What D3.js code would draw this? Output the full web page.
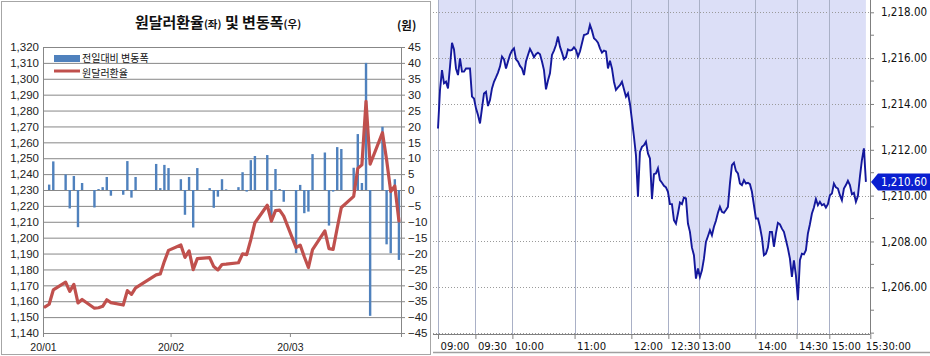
<!DOCTYPE html>
<html><head><meta charset="utf-8">
<script src="https://cdn.jsdelivr.net/npm/d3@7"></script>
<style>
body{margin:0;background:#fff;}
svg{display:block;}
</style>
</head><body>
<svg id="c" width="930" height="356"></svg>
<script>
// ---------- Left chart data ----------
const tradeDates = [
 "2020-01-02","2020-01-03","2020-01-06","2020-01-07","2020-01-08","2020-01-09","2020-01-10","2020-01-13","2020-01-14","2020-01-15",
 "2020-01-16","2020-01-17","2020-01-20","2020-01-21","2020-01-22","2020-01-23","2020-01-28","2020-01-29","2020-01-30","2020-01-31",
 "2020-02-03","2020-02-04","2020-02-05","2020-02-06","2020-02-07","2020-02-10","2020-02-11","2020-02-12","2020-02-13","2020-02-14",
 "2020-02-17","2020-02-18","2020-02-19","2020-02-20","2020-02-21","2020-02-24","2020-02-25","2020-02-26","2020-02-27","2020-02-28",
 "2020-03-02","2020-03-03","2020-03-04","2020-03-05","2020-03-06","2020-03-09","2020-03-10","2020-03-11","2020-03-12","2020-03-13",
 "2020-03-16","2020-03-17","2020-03-18","2020-03-19","2020-03-20","2020-03-23","2020-03-24","2020-03-25","2020-03-26","2020-03-27"];
const dailyChange = [
 1.7, 9.0, 4.9, -5.8, 4.4, -11.7, 2.2, -5.5, 0.3, 0.9,
 4.1, -1.8, -1.5, 9.1, -2.4, 4.1, 8.2, 0.6, 7.9, 6.9,
 3.4, -7.8, 4.1, -11.8, 6.9, 0.6, -5.6, -2.1, 3.4, 0.2,
 0.9, 5.6, -0.5, 9.4, 10.7, 11.0, -10.0, 6.6, 0.3, -3.7,
 -19.9, 1.6, -7.3, -6.8, 11.3, 11.8, -11.2, -0.5, 13.5, 12.9,
 7.0, 17.6, 2.2, 40.0, -39.6, 19.9, -17.1, -19.9, 3.4, -22.0];
const rateDates = ["2020-01-01"].concat(tradeDates);
const closeRate = [1156.4,
 1158.1, 1167.1, 1172.0, 1166.2, 1170.6, 1158.9, 1161.1, 1155.6, 1155.9, 1156.8,
 1160.9, 1159.1, 1157.6, 1166.7, 1164.3, 1168.4, 1176.6, 1177.2, 1185.1, 1192.0,
 1195.4, 1187.6, 1191.7, 1179.9, 1186.8, 1187.4, 1181.8, 1179.7, 1183.1, 1183.3,
 1184.2, 1189.8, 1189.3, 1198.7, 1209.4, 1220.4, 1210.4, 1217.0, 1217.3, 1213.6,
 1193.7, 1195.3, 1188.0, 1181.2, 1192.5, 1204.3, 1193.1, 1192.6, 1206.1, 1219.0,
 1226.0, 1243.6, 1245.8, 1285.8, 1246.2, 1266.1, 1249.0, 1229.1, 1232.5, 1210.5];
const leftTicks = d3.range(1140, 1321, 10);
const rightTicks = d3.range(-45, 46, 5);
const monthTicks = ["2020-01-01","2020-02-01","2020-03-01"];
const monthLabels = ["20/01","20/02","20/03"];
const legendLabels = ["전일대비 변동폭","원달러환율"];

// ---------- Right chart data ----------
const intradayRate = [
 1212.93,1214.61,1215.48,1214.90,1214.97,1214.68,1215.63,1216.67,1216.38,1215.55,
 1215.26,1215.99,1215.41,1215.41,1215.55,1215.55,1215.55,1214.32,1214.24,1213.81,
 1213.52,1213.15,1213.81,1214.46,1214.53,1213.91,1214.17,1214.68,1214.97,1215.16,
 1215.37,1215.63,1216.07,1215.95,1215.55,1215.85,1216.14,1216.33,1216.43,1215.95,
 1215.85,1215.66,1215.55,1215.26,1215.85,1216.14,1216.40,1216.24,1216.04,1216.17,
 1216.24,1216.17,1215.85,1215.48,1214.64,1215.02,1215.34,1216.14,1216.33,1216.57,
 1216.94,1216.50,1216.24,1215.95,1216.04,1216.38,1216.33,1216.36,1216.47,1216.36,
 1216.07,1216.29,1216.65,1217.01,1217.04,1217.08,1217.45,1217.20,1216.87,1216.79,
 1216.67,1216.43,1216.24,1216.33,1216.29,1215.55,1215.89,1215.55,1214.97,1214.61,
 1214.72,1214.82,1214.97,1214.64,1214.32,1214.46,1214.00,1213.30,1212.57,1211.77,
 1209.95,1211.91,1212.13,1212.20,1212.35,1211.84,1211.62,1209.85,1210.94,1210.97,
 1211.19,1210.68,1210.56,1210.43,1210.36,1210.17,1209.63,1209.63,1208.93,1208.78,
 1209.22,1209.70,1209.63,1209.92,1209.88,1208.78,1208.42,1207.73,1207.40,1206.38,
 1206.82,1206.45,1206.74,1207.25,1207.98,1208.23,1208.49,1208.27,1208.64,1208.90,
 1209.25,1209.51,1209.29,1209.25,1209.37,1209.51,1210.53,1211.33,1211.43,1211.08,
 1210.97,1210.53,1210.46,1210.68,1210.53,1210.56,1210.50,1210.17,1209.58,1209.00,
 1209.00,1208.64,1208.17,1207.40,1207.47,1207.73,1208.42,1208.42,1207.77,1208.35,
 1208.81,1208.75,1208.56,1208.42,1208.06,1207.70,1207.25,1206.45,1207.18,1206.52,
 1205.44,1207.18,1207.47,1207.44,1207.62,1208.35,1208.75,1209.22,1209.48,1209.85,
 1209.58,1209.73,1209.58,1209.63,1209.48,1209.63,1210.02,1210.09,1210.53,1210.36,
 1210.31,1210.02,1209.80,1210.31,1210.46,1210.65,1210.46,1210.06,1210.12,1209.73,
 1209.98,1210.82,1211.55,1212.06,1210.60];
const timeTickIndex = [0, 18.7, 37.2, 68.3, 96.7, 115.2, 130.7, 158.7, 179.3, 195.7, 216.2];
const timeTickLabels = ["09:00","09:30","10:00","11:00","12:00","12:30","13:00","14:00","14:30","15:00","15:30:00"];
const priceTicks = [1206, 1208, 1210, 1212, 1214, 1216, 1218];
const priceMinorTicks = [1204, 1205, 1207, 1209, 1211, 1213, 1215, 1217];
const lastPrice = 1210.60;

const svg = d3.select("#c");
const parse = d3.utcParse("%Y-%m-%d");
const NUM = "'Liberation Sans', Arial, sans-serif";
const KR = "'Noto Sans CJK KR', sans-serif";
const COND = "'DejaVu Sans Condensed', 'DejaVu Sans', sans-serif";

// ================= LEFT CHART =================
svg.append("rect").attr("x",1.5).attr("y",1.5).attr("width",429).attr("height",353)
  .attr("fill","#fff").attr("stroke","#a6a6a6");

const L = {x0:43, x1:401, y0:47, y1:333};
const x = d3.scaleUtc().domain([parse("2020-01-01"), parse("2020-03-28")]).range([L.x0, L.x1]);
const yL = d3.scaleLinear().domain([1140,1320]).range([L.y1, L.y0]);
const yR = d3.scaleLinear().domain([-45,45]).range([L.y1, L.y0]);
const mid = d => d3.utcHour.offset(parse(d), 12);

svg.append("g").selectAll("line").data(leftTicks).join("line")
  .attr("x1",L.x0).attr("x2",L.x1)
  .attr("y1",d=>yL(d)+0.5).attr("y2",d=>yL(d)+0.5)
  .attr("stroke","#878787").attr("stroke-width",1);

// left axis
const axL = svg.append("g").attr("transform",`translate(${L.x0},0)`)
  .call(d3.axisLeft(yL).tickValues(leftTicks).tickSize(0).tickPadding(4).tickFormat(d3.format(",")));
axL.select(".domain").attr("stroke","#878787");
axL.selectAll("text").attr("font-family",NUM).attr("font-size",11.5).attr("fill","#222");

// right axis
const axR = svg.append("g").attr("transform",`translate(${L.x1},0)`)
  .call(d3.axisRight(yR).tickValues(rightTicks).tickSize(4).tickPadding(3));
axR.select(".domain").attr("stroke","#878787");
axR.selectAll("line").attr("stroke","#878787");
axR.selectAll("text").attr("font-family",NUM).attr("font-size",11.5).attr("fill","#222");

// bottom axis
const axB = svg.append("g").attr("transform",`translate(0,${L.y1})`)
  .call(d3.axisBottom(x).tickValues(monthTicks.map(parse)).tickSize(4).tickPadding(7)
    .tickFormat((d,i)=>monthLabels[i]));
axB.select(".domain").attr("stroke","#878787");
axB.selectAll("line").attr("stroke","#878787");
axB.selectAll("text").attr("font-family",NUM).attr("font-size",10.5).attr("fill","#222");

// bars
const barW = 2.4;
svg.append("g").selectAll("rect").data(dailyChange).join("rect")
  .attr("x",(d,i)=>x(mid(tradeDates[i]))-barW/2)
  .attr("width",barW)
  .attr("y",d=>Math.min(yR(d),yR(0)))
  .attr("height",d=>Math.abs(yR(d)-yR(0)))
  .attr("fill","#4f81bd");

// line
const lineL = d3.line().x((d,i)=>x(mid(rateDates[i]))).y(d=>yL(d));
svg.append("path").datum(closeRate).attr("d",lineL)
  .attr("fill","none").attr("stroke","#c0504d").attr("stroke-width",3.2)
  .attr("stroke-linejoin","round").attr("stroke-linecap","round");

// title
const title = svg.append("text").attr("x",218).attr("y",28).attr("text-anchor","middle")
  .attr("font-family",KR).attr("font-weight","bold").attr("fill","#111");
title.append("tspan").attr("font-size",15).text("원달러환율");
title.append("tspan").attr("font-size",10.5).text("(좌)");
title.append("tspan").attr("font-size",15).text(" 및 변동폭");
title.append("tspan").attr("font-size",10.5).text("(우)");
svg.append("text").attr("x",397).attr("y",30).attr("font-family",KR).attr("font-weight","bold")
  .attr("font-size",11.5).attr("fill","#111").text("(원)");

// legend
svg.append("rect").attr("x",54).attr("y",55).attr("width",26).attr("height",7).attr("fill","#4f81bd");
svg.append("line").attr("x1",54).attr("x2",80).attr("y1",71).attr("y2",71)
  .attr("stroke","#c0504d").attr("stroke-width",3);
svg.append("g").selectAll("text").data(legendLabels).join("text")
  .attr("x",82).attr("y",(d,i)=>62 + i*14.6)
  .attr("font-family",KR).attr("font-size",10).attr("fill","#111").text(d=>d);

// ================= RIGHT CHART =================
const R = {x0:433, x1:870, y0:0, y1:334};
const xi = d3.scaleLinear().domain([0,216.2]).range([438,870.3]);
const yp = d3.scaleLinear().domain([1206,1218]).range([287.3,12.3]);

// fill above the line
const area = d3.area().x((d,i)=>xi(i)).y0(R.y0).y1(d=>yp(d));
svg.append("path").datum(intradayRate).attr("d",area).attr("fill","#dcdff7");

// horizontal dotted grid
svg.append("g").selectAll("line").data(priceTicks.concat([1204])).join("line")
  .attr("x1",R.x0).attr("x2",R.x1)
  .attr("y1",d=>Math.round(yp(d))+0.5).attr("y2",d=>Math.round(yp(d))+0.5)
  .attr("stroke","#9a9a9a").attr("stroke-dasharray","1,2");

// vertical grid
svg.append("g").selectAll("line").data(timeTickIndex.slice(0,-1)).join("line")
  .attr("x1",d=>Math.round(xi(d))+0.5).attr("x2",d=>Math.round(xi(d))+0.5)
  .attr("y1",R.y0).attr("y2",R.y1)
  .attr("stroke","#a9b0c6").attr("stroke-width",1);

// line
const lineR = d3.line().x((d,i)=>xi(i)).y(d=>yp(d));
svg.append("path").datum(intradayRate).attr("d",lineR)
  .attr("fill","none").attr("stroke","#14189c").attr("stroke-width",1.9)
  .attr("stroke-linejoin","miter");

// bottom axis
const axT = svg.append("g").attr("transform",`translate(0,${R.y1})`)
  .call(d3.axisBottom(xi).tickValues(timeTickIndex).tickSize(5).tickPadding(3)
    .tickFormat((d,i)=>timeTickLabels[i]));
axT.select(".domain").attr("d",`M${R.x0},0.5H${R.x1}`).attr("stroke","#7f7f7f");
axT.selectAll("line").attr("stroke","#7f7f7f");
axT.selectAll("text").attr("font-family",COND)
  .attr("font-size",11.2).attr("fill","#111").attr("text-anchor","start")
  .attr("dx",(d,i)=>i===timeTickIndex.length-1?-5:2);

// right price axis
const axP = svg.append("g").attr("transform",`translate(${R.x1},0)`)
  .call(d3.axisRight(yp).tickValues(priceTicks).tickSize(4).tickPadding(7)
    .tickFormat(d3.format(",.2f")));
axP.select(".domain").attr("d",`M0.5,0V${R.y1}`).attr("stroke","#7f7f7f");
axP.selectAll("line").attr("stroke","#7f7f7f");
axP.selectAll("text").attr("font-family",COND).attr("font-size",11.5).attr("fill","#111");
svg.append("g").selectAll("line").data(priceMinorTicks).join("line")
  .attr("x1",R.x1).attr("x2",R.x1+4)
  .attr("y1",d=>yp(d)).attr("y2",d=>yp(d)).attr("stroke","#7f7f7f");

// bottom border
svg.append("line").attr("x1",R.x0).attr("x2",930).attr("y1",352.5).attr("y2",352.5)
  .attr("stroke","#a0a0a0").attr("stroke-width",1.5);

// last price tag
const ty = yp(lastPrice);
svg.append("path")
  .attr("d",`M${R.x1+1},${ty} L${R.x1+8},${ty-8.5} H930 V${ty+8.5} H${R.x1+8} Z`)
  .attr("fill","#0a1fd0");
svg.append("text").attr("x",R.x1+11).attr("y",ty+4.5)
  .attr("font-family",COND)
  .attr("font-size",11.5).attr("fill","#fff").text(d3.format(",.2f")(lastPrice));
</script>
</body></html>
